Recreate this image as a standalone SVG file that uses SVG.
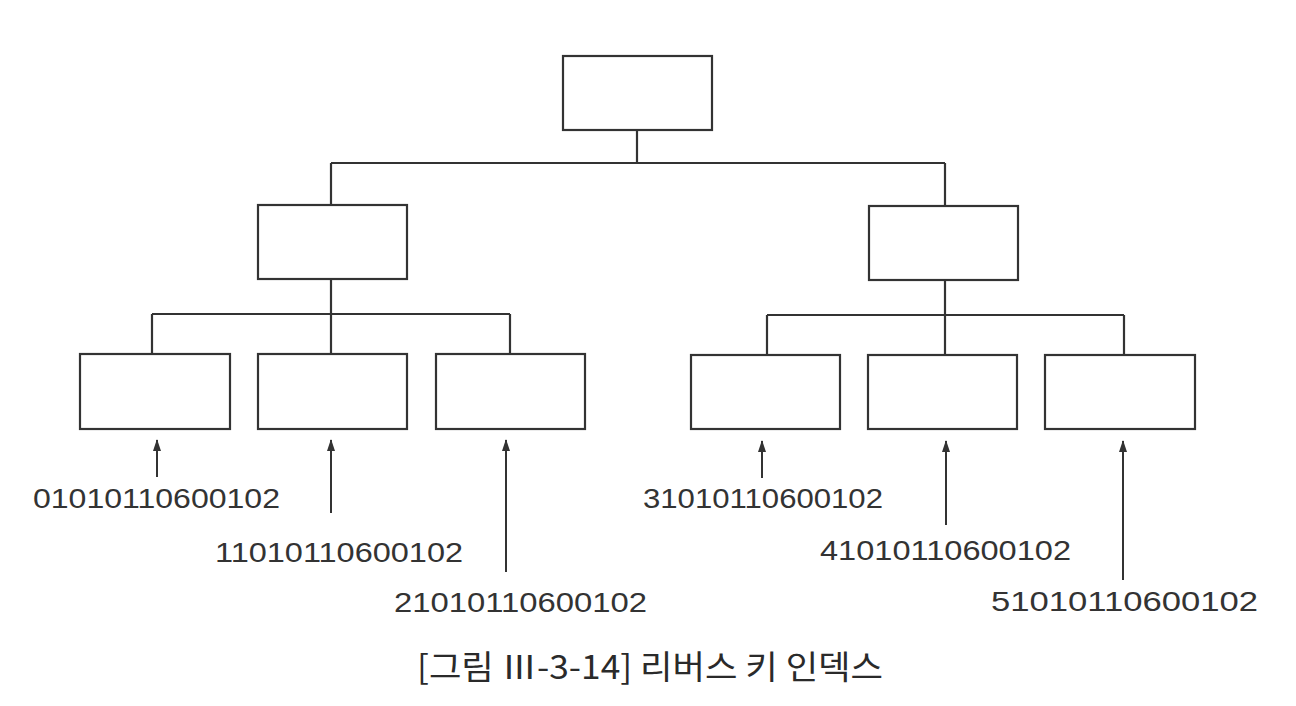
<svg xmlns="http://www.w3.org/2000/svg" width="1296" height="706" viewBox="0 0 1296 706">
<defs>
<style>
.box{fill:#fff;stroke:#333;stroke-width:2.2}
.ln{fill:none;stroke:#333;stroke-width:2.2}
.ar{fill:none;stroke:#333;stroke-width:2}
.key{font-family:"Liberation Sans",Arial,sans-serif;font-size:27px;fill:#333}
.cap{font-family:"Noto Sans CJK KR","Noto Sans",sans-serif;font-size:33px;fill:#2a2a2a}
</style>
<marker id="ah" viewBox="0 0 12 8" refX="11" refY="4" markerWidth="12" markerHeight="8" markerUnits="userSpaceOnUse" orient="auto">
<path d="M0 0 L12 4 L0 8 Z" fill="#333"/>
</marker>
</defs>
<rect width="1296" height="706" fill="#fff"/>
<g id="connectors">
<path class="ln" d="M637 130 V163 M331 163 H945 M331 163 V205 M945 163 V206"/>
<path class="ln" d="M331 279 V354 M152 314 H510 M152 314 V354 M510 314 V354"/>
<path class="ln" d="M945 280 V355 M767 315 H1124 M767 315 V355 M1124 315 V355"/>
<line class="ar" x1="157" y1="477" x2="157" y2="440" marker-end="url(#ah)"/>
<line class="ar" x1="331" y1="513" x2="331" y2="440" marker-end="url(#ah)"/>
<line class="ar" x1="506" y1="572" x2="506" y2="440" marker-end="url(#ah)"/>
<line class="ar" x1="762" y1="478" x2="762" y2="441" marker-end="url(#ah)"/>
<line class="ar" x1="946" y1="525" x2="946" y2="441" marker-end="url(#ah)"/>
<line class="ar" x1="1123" y1="580" x2="1123" y2="441" marker-end="url(#ah)"/>
</g>
<g id="root"><rect class="box" x="563" y="56" width="149" height="74"/></g>
<g id="mid-left"><rect class="box" x="258" y="205" width="149" height="74"/></g>
<g id="mid-right"><rect class="box" x="869" y="206" width="149" height="74"/></g>
<g id="leaf-0"><rect class="box" x="80" y="354" width="150" height="75"/></g>
<g id="leaf-1"><rect class="box" x="258" y="354" width="149" height="75"/></g>
<g id="leaf-2"><rect class="box" x="436" y="354" width="149" height="75"/></g>
<g id="leaf-3"><rect class="box" x="691" y="355" width="149" height="74"/></g>
<g id="leaf-4"><rect class="box" x="868" y="355" width="149" height="74"/></g>
<g id="leaf-5"><rect class="box" x="1045" y="355" width="150" height="74"/></g>
<g id="keys">
<text class="key" x="33" y="508" textLength="247" lengthAdjust="spacingAndGlyphs">01010110600102</text>
<text class="key" x="215" y="562" textLength="248" lengthAdjust="spacingAndGlyphs">11010110600102</text>
<text class="key" x="394" y="612" textLength="253" lengthAdjust="spacingAndGlyphs">21010110600102</text>
<text class="key" x="643" y="508" textLength="240" lengthAdjust="spacingAndGlyphs">31010110600102</text>
<text class="key" x="820" y="560" textLength="251" lengthAdjust="spacingAndGlyphs">41010110600102</text>
<text class="key" x="991" y="611" textLength="267" lengthAdjust="spacingAndGlyphs">51010110600102</text>
</g>
<g id="caption">
<text class="cap" x="417" y="679" textLength="466" lengthAdjust="spacingAndGlyphs">[그림 Ⅲ-3-14] 리버스 키 인덱스</text>
</g>
</svg>
